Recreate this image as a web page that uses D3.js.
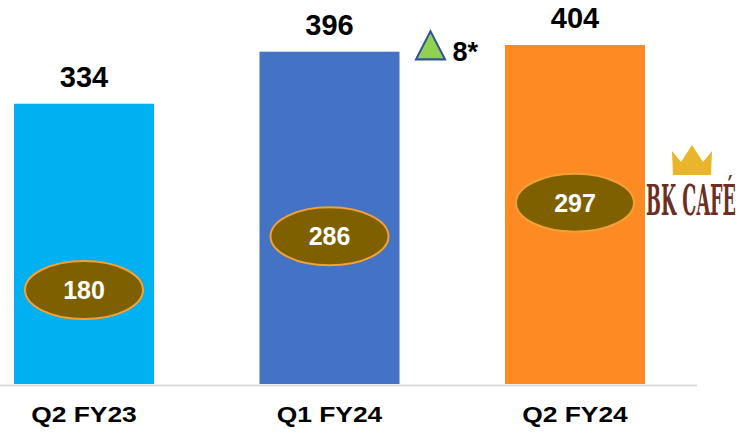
<!DOCTYPE html>
<html>
<head>
<meta charset="utf-8">
<script src="https://cdn.jsdelivr.net/npm/d3@7"></script>
<style>
  html, body { margin: 0; padding: 0; background: #fff; }
  svg { display: block; }
</style>
</head>
<body>
<svg id="chart"></svg>
<script>
// data
const quarters = ["Q2 FY23", "Q1 FY24", "Q2 FY24"];
const totalStores = [334, 396, 404];
const cafeStores = [180, 286, 297];
const changeLabel = "8*";
const barColors = ["#00B0F0", "#4472C4", "#FE8A24"];

// ukuran
const svgWidth = 743;
const svgHeight = 432;
const baseY = 384;

const svg = d3.select("#chart")
    .attr("width", svgWidth)
    .attr("height", svgHeight)
    .style("font-family", "'Liberation Sans', Arial, sans-serif");

// skala
const x = d3.scaleBand()
    .domain(quarters)
    .range([14, 645])
    .paddingInner(0.4297)
    .paddingOuter(0);

const y = d3.scaleLinear()
    .domain([0, 404])
    .range([baseY, 45]);

// posisi badge di dalam batang (dalam satuan sumbu y)
const badgeLevel = [112, 176, 216];

// garis dasar
svg.append("line")
    .attr("x1", 0).attr("x2", 697)
    .attr("y1", baseY + 1.5).attr("y2", baseY + 1.5)
    .attr("stroke", "#d9d9d9")
    .attr("stroke-width", 2);

// batang
svg.selectAll("rect.bar")
  .data(quarters)
  .enter().append("rect")
    .attr("class", "bar")
    .attr("x", d => x(d))
    .attr("width", x.bandwidth())
    .attr("y", (d, i) => y(totalStores[i]))
    .attr("height", (d, i) => baseY - y(totalStores[i]))
    .attr("fill", (d, i) => barColors[i]);

// label total di atas batang
svg.selectAll("text.total")
  .data(quarters)
  .enter().append("text")
    .attr("class", "total")
    .attr("x", d => x(d) + x.bandwidth() / 2)
    .attr("y", (d, i) => y(totalStores[i]) - 17)
    .attr("text-anchor", "middle")
    .attr("font-weight", "bold")
    .attr("font-size", 29)
    .attr("fill", "#000")
    .text((d, i) => totalStores[i]);

// badge elips
const badge = svg.selectAll("g.badge")
  .data(quarters)
  .enter().append("g")
    .attr("class", "badge")
    .attr("transform", (d, i) => `translate(${x(d) + x.bandwidth() / 2},${y(badgeLevel[i])})`);

badge.append("ellipse")
    .attr("rx", 59)
    .attr("ry", 29)
    .attr("fill", "#7F6000")
    .attr("stroke", "#F4A133")
    .attr("stroke-width", 2);

badge.append("text")
    .attr("y", 9)
    .attr("text-anchor", "middle")
    .attr("font-weight", "bold")
    .attr("font-size", 25)
    .attr("fill", "#fff")
    .text((d, i) => cafeStores[i]);

// label kategori
svg.selectAll("text.cat")
  .data(quarters)
  .enter().append("text")
    .attr("class", "cat")
    .attr("transform", d => `translate(${x(d) + x.bandwidth() / 2},422) scale(1.2,1)`)
    .attr("text-anchor", "middle")
    .attr("font-weight", "bold")
    .attr("font-size", 22)
    .attr("fill", "#000")
    .text(d => d);

// segitiga perubahan
const tri = svg.append("g")
    .attr("transform", `translate(${x(quarters[1]) + x.bandwidth() + 31},50)`);

tri.append("path")
    .attr("d", d3.symbol().type(d3.symbolTriangle).size(380))
    .attr("transform", "scale(0.98,1.1)")
    .attr("fill", "#92D050")
    .attr("stroke", "#2F5597")
    .attr("stroke-width", 2);

tri.append("text")
    .attr("x", 22)
    .attr("y", 11)
    .attr("font-weight", "bold")
    .attr("font-size", 27)
    .attr("fill", "#000")
    .text(changeLabel);

// logo BK CAFE
const logo = svg.append("g")
    .attr("transform", `translate(${x(quarters[2]) + x.bandwidth()},0)`);

const crown = d3.path();
crown.moveTo(28, 175);
crown.lineTo(27, 151);
crown.lineTo(36, 162);
crown.lineTo(47, 145);
crown.lineTo(58, 162);
crown.lineTo(67, 151);
crown.lineTo(66, 175);
crown.closePath();

logo.append("path")
    .attr("d", crown.toString())
    .attr("fill", "#E9B52C");

const logoText = logo.append("text")
    .attr("font-family", "'DejaVu Serif', 'Liberation Serif', serif")
    .attr("font-weight", "bold")
    .attr("font-size", 43)
    .attr("fill", "#6B2F24")
    .text("BK CAFÉ");

// peras teks logo supaya muat sampai tepi kanan
const logoLen = logoText.node().getComputedTextLength();
logoText.attr("transform", `translate(1,215) scale(${90 / logoLen},1)`);
</script>
</body>
</html>
